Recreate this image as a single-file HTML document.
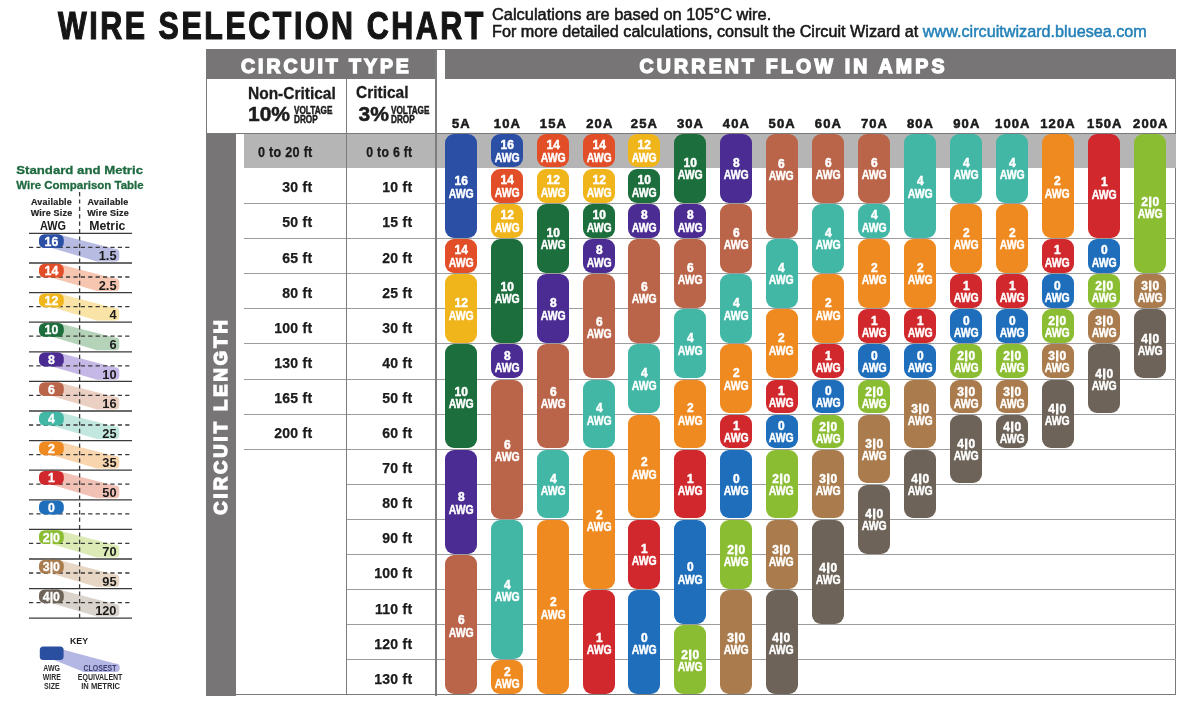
<!DOCTYPE html>
<html><head><meta charset="utf-8"><title>Wire Selection Chart</title>
<style>
*{margin:0;padding:0;box-sizing:border-box}
html,body{width:1200px;height:714px;overflow:hidden;background:#fff}
body{position:relative;font-family:"Liberation Sans",Arial,sans-serif;color:#1c1c1c}
.a{position:absolute}
.t{position:absolute;white-space:nowrap;line-height:1}
.title{left:58px;top:6.5px;font-size:38px;font-weight:700;letter-spacing:3.2px;color:#151515;transform-origin:0 0;transform:scaleX(0.8);-webkit-text-stroke:1.2px #151515}
.sub{left:492px;font-size:17px;color:#161616;transform-origin:0 0;-webkit-text-stroke:0.55px #161616}
.sub b{font-weight:400;color:#2380b8;-webkit-text-stroke:0.5px #2380b8}
.bar{position:absolute;background:#777575}
.hd{position:absolute;color:#fff;font-weight:700;white-space:nowrap;line-height:1}
.vl{position:absolute;background:#7d7d7d}
.hl{position:absolute;height:1px;background:#9c9c9c}
.rl{position:absolute;font-size:14px;font-weight:700;text-align:right;white-space:nowrap;line-height:1;color:#1a1a1a;letter-spacing:0.3px;-webkit-text-stroke:0.25px #1a1a1a}
.al{position:absolute;font-size:13px;font-weight:700;letter-spacing:1.1px;text-align:center;width:60px;white-space:nowrap;line-height:1;color:#1a1a1a;-webkit-text-stroke:0.55px #1a1a1a}
.p{position:absolute;width:32px;border-radius:9px;display:flex;align-items:center;justify-content:center}
.p span{display:block;color:#fff;font-weight:700;font-size:12.6px;line-height:12.5px;text-align:center;white-space:nowrap;margin-top:2px;-webkit-text-stroke:0.5px #fff}
.p em{display:block;font-style:normal;transform:scaleX(0.95)}
.p u{display:block;text-decoration:none;font-size:13.6px;transform:scaleX(0.77)}
.p i{display:inline-block;font-style:normal;-webkit-text-stroke:0.9px #fff;margin:0 0.6px;transform:scaleY(0.92);vertical-align:0.5px}
</style></head><body>

<div class="t title">WIRE SELECTION CHART</div>
<div class="t sub" style="top:6px;transform:scaleX(0.965)">Calculations are based on 105°C wire.</div>
<div class="t sub" style="top:23px;transform:scaleX(0.952)">For more detailed calculations, consult the Circuit Wizard at <b>www.circuitwizard.bluesea.com</b></div>
<div class="a" style="left:205.5px;top:48.6px;width:970.5px;height:646.9px;border:1.3px solid #7a7a7a"></div>
<div class="bar" style="left:205.5px;top:48.6px;width:230.5px;height:30.6px"></div>
<div class="bar" style="left:444.8px;top:48.6px;width:731.2px;height:30.6px"></div>
<div class="a" style="left:436.8px;top:49.8px;width:8px;height:29.4px;background:#fff"></div>
<div class="hd" style="left:241px;top:56.5px;font-size:19.5px;letter-spacing:2.95px;transform-origin:0 0;transform:scaleX(1.0);-webkit-text-stroke:1.4px #fff">CIRCUIT TYPE</div>
<div class="hd" style="left:639.5px;top:56.5px;font-size:19.5px;letter-spacing:3.2px;transform-origin:0 0;transform:scaleX(1.0);-webkit-text-stroke:1.4px #fff">CURRENT FLOW IN AMPS</div>
<div class="bar" style="left:205.5px;top:132.5px;width:30.5px;height:563.0px"></div>
<div class="hd" style="left:220.5px;top:416.2px;font-size:18.5px;letter-spacing:2.95px;transform:translate(-50%,-50%) rotate(-90deg);-webkit-text-stroke:1.4px #fff">CIRCUIT LENGTH</div>
<div class="a" style="left:244px;top:133.3px;width:932px;height:35.099999999999994px;background:#b5b5b5"></div>
<div class="hl" style="left:244px;top:203.0px;width:102px"></div>
<div class="hl" style="left:346px;top:203.0px;width:830px"></div>
<div class="hl" style="left:244px;top:238.1px;width:102px"></div>
<div class="hl" style="left:346px;top:238.1px;width:830px"></div>
<div class="hl" style="left:244px;top:273.2px;width:102px"></div>
<div class="hl" style="left:346px;top:273.2px;width:830px"></div>
<div class="hl" style="left:244px;top:308.3px;width:102px"></div>
<div class="hl" style="left:346px;top:308.3px;width:830px"></div>
<div class="hl" style="left:244px;top:343.4px;width:102px"></div>
<div class="hl" style="left:346px;top:343.4px;width:830px"></div>
<div class="hl" style="left:244px;top:378.5px;width:102px"></div>
<div class="hl" style="left:346px;top:378.5px;width:830px"></div>
<div class="hl" style="left:244px;top:413.6px;width:102px"></div>
<div class="hl" style="left:346px;top:413.6px;width:830px"></div>
<div class="hl" style="left:244px;top:448.7px;width:102px"></div>
<div class="hl" style="left:346px;top:448.7px;width:830px"></div>
<div class="hl" style="left:346px;top:483.8px;width:830px"></div>
<div class="hl" style="left:346px;top:518.9px;width:830px"></div>
<div class="hl" style="left:346px;top:554.0px;width:830px"></div>
<div class="hl" style="left:346px;top:589.1px;width:830px"></div>
<div class="hl" style="left:346px;top:624.2px;width:830px"></div>
<div class="hl" style="left:346px;top:659.3px;width:830px"></div>
<div class="a" style="left:205.5px;top:132.5px;width:970.5px;height:1.3px;background:#7a7a7a"></div>
<div class="vl" style="left:345.6px;top:79px;width:1.2px;height:616px"></div>
<div class="vl" style="left:435.3px;top:48.6px;width:1.6px;height:647px"></div>
<div class="t" style="left:248px;top:86px;font-size:16px;-webkit-text-stroke:0.3px #1c1c1c;font-weight:700;transform-origin:0 0;transform:scaleX(0.968)">Non-Critical</div>
<div class="t" style="left:248px;top:103px;font-size:21px;font-weight:700;-webkit-text-stroke:0.5px #1c1c1c">10%</div>
<div class="t" style="left:293.5px;top:105.5px;font-size:10px;font-weight:700;line-height:9px;transform-origin:0 0;transform:scaleX(0.82);-webkit-text-stroke:0.45px #1c1c1c">VOLTAGE<br>DROP</div>
<div class="t" style="left:356px;top:85px;font-size:16px;-webkit-text-stroke:0.3px #1c1c1c;font-weight:700;transform-origin:0 0;transform:scaleX(0.968)">Critical</div>
<div class="t" style="left:358.5px;top:103px;font-size:21px;font-weight:700;-webkit-text-stroke:0.5px #1c1c1c">3%</div>
<div class="t" style="left:391px;top:105.5px;font-size:10px;font-weight:700;line-height:9px;transform-origin:0 0;transform:scaleX(0.82);-webkit-text-stroke:0.45px #1c1c1c">VOLTAGE<br>DROP</div>
<div class="rl" style="right:887.5px;top:145.2px;transform-origin:100% 50%;transform:scaleX(0.9)">0 to 20 ft</div>
<div class="rl" style="right:887.5px;top:180.3px">30 ft</div>
<div class="rl" style="right:887.5px;top:215.4px">50 ft</div>
<div class="rl" style="right:887.5px;top:250.5px">65 ft</div>
<div class="rl" style="right:887.5px;top:285.6px">80 ft</div>
<div class="rl" style="right:887.5px;top:320.7px">100 ft</div>
<div class="rl" style="right:887.5px;top:355.8px">130 ft</div>
<div class="rl" style="right:887.5px;top:390.9px">165 ft</div>
<div class="rl" style="right:887.5px;top:426.0px">200 ft</div>
<div class="rl" style="right:787.5px;top:145.2px;transform-origin:100% 50%;transform:scaleX(0.88)">0 to 6 ft</div>
<div class="rl" style="right:787.5px;top:180.3px">10 ft</div>
<div class="rl" style="right:787.5px;top:215.4px">15 ft</div>
<div class="rl" style="right:787.5px;top:250.5px">20 ft</div>
<div class="rl" style="right:787.5px;top:285.6px">25 ft</div>
<div class="rl" style="right:787.5px;top:320.7px">30 ft</div>
<div class="rl" style="right:787.5px;top:355.8px">40 ft</div>
<div class="rl" style="right:787.5px;top:390.9px">50 ft</div>
<div class="rl" style="right:787.5px;top:426.0px">60 ft</div>
<div class="rl" style="right:787.5px;top:461.1px">70 ft</div>
<div class="rl" style="right:787.5px;top:496.2px">80 ft</div>
<div class="rl" style="right:787.5px;top:531.3px">90 ft</div>
<div class="rl" style="right:787.5px;top:566.4px">100 ft</div>
<div class="rl" style="right:787.5px;top:601.5px">110 ft</div>
<div class="rl" style="right:787.5px;top:636.6px">120 ft</div>
<div class="rl" style="right:787.5px;top:671.7px">130 ft</div>
<div class="al" style="left:431.3px;top:117.3px">5A</div>
<div class="al" style="left:477.4px;top:117.3px">10A</div>
<div class="al" style="left:523.4px;top:117.3px">15A</div>
<div class="al" style="left:569.8px;top:117.3px">20A</div>
<div class="al" style="left:614.4px;top:117.3px">25A</div>
<div class="al" style="left:660.5px;top:117.3px">30A</div>
<div class="al" style="left:706.4px;top:117.3px">40A</div>
<div class="al" style="left:752.2px;top:117.3px">50A</div>
<div class="al" style="left:798.4px;top:117.3px">60A</div>
<div class="al" style="left:844.5px;top:117.3px">70A</div>
<div class="al" style="left:890.5px;top:117.3px">80A</div>
<div class="al" style="left:936.8px;top:117.3px">90A</div>
<div class="al" style="left:982.8px;top:117.3px">100A</div>
<div class="al" style="left:1028.0px;top:117.3px">120A</div>
<div class="al" style="left:1074.8px;top:117.3px">150A</div>
<div class="al" style="left:1120.8px;top:117.3px">200A</div>
<div class="p" style="left:444.8px;top:133.8px;height:103.9px;background:#2b4fa5"><span style="position:relative;top:1px"><em>16</em><u>AWG</u></span></div>
<div class="p" style="left:444.8px;top:239.1px;height:33.7px;background:#e24e27"><span><em>14</em><u>AWG</u></span></div>
<div class="p" style="left:444.8px;top:274.2px;height:68.8px;background:#f1b51c"><span><em>12</em><u>AWG</u></span></div>
<div class="p" style="left:444.8px;top:344.4px;height:103.9px;background:#1c6e3d"><span style="position:relative;top:1px"><em>10</em><u>AWG</u></span></div>
<div class="p" style="left:444.8px;top:449.7px;height:103.9px;background:#4a2c92"><span style="position:relative;top:1px"><em>8</em><u>AWG</u></span></div>
<div class="p" style="left:444.8px;top:555.0px;height:139.0px;background:#ba6549"><span style="position:relative;top:1px"><em>6</em><u>AWG</u></span></div>
<div class="p" style="left:490.9px;top:133.8px;height:33.7px;background:#2b4fa5"><span><em>16</em><u>AWG</u></span></div>
<div class="p" style="left:490.9px;top:168.9px;height:33.7px;background:#e24e27"><span><em>14</em><u>AWG</u></span></div>
<div class="p" style="left:490.9px;top:204.0px;height:33.7px;background:#f1b51c"><span><em>12</em><u>AWG</u></span></div>
<div class="p" style="left:490.9px;top:239.1px;height:103.9px;background:#1c6e3d"><span style="position:relative;top:1px"><em>10</em><u>AWG</u></span></div>
<div class="p" style="left:490.9px;top:344.4px;height:33.7px;background:#4a2c92"><span><em>8</em><u>AWG</u></span></div>
<div class="p" style="left:490.9px;top:379.5px;height:139.0px;background:#ba6549"><span style="position:relative;top:1px"><em>6</em><u>AWG</u></span></div>
<div class="p" style="left:490.9px;top:519.9px;height:139.0px;background:#42b7a6"><span style="position:relative;top:1px"><em>4</em><u>AWG</u></span></div>
<div class="p" style="left:490.9px;top:660.3px;height:33.7px;background:#ef8a21"><span><em>2</em><u>AWG</u></span></div>
<div class="p" style="left:536.9px;top:133.8px;height:33.7px;background:#e24e27"><span><em>14</em><u>AWG</u></span></div>
<div class="p" style="left:536.9px;top:168.9px;height:33.7px;background:#f1b51c"><span><em>12</em><u>AWG</u></span></div>
<div class="p" style="left:536.9px;top:204.0px;height:68.8px;background:#1c6e3d"><span><em>10</em><u>AWG</u></span></div>
<div class="p" style="left:536.9px;top:274.2px;height:68.8px;background:#4a2c92"><span><em>8</em><u>AWG</u></span></div>
<div class="p" style="left:536.9px;top:344.4px;height:103.9px;background:#ba6549"><span style="position:relative;top:1px"><em>6</em><u>AWG</u></span></div>
<div class="p" style="left:536.9px;top:449.7px;height:68.8px;background:#42b7a6"><span><em>4</em><u>AWG</u></span></div>
<div class="p" style="left:536.9px;top:519.9px;height:174.1px;background:#ef8a21"><span style="position:relative;top:1px"><em>2</em><u>AWG</u></span></div>
<div class="p" style="left:583.3px;top:133.8px;height:33.7px;background:#e24e27"><span><em>14</em><u>AWG</u></span></div>
<div class="p" style="left:583.3px;top:168.9px;height:33.7px;background:#f1b51c"><span><em>12</em><u>AWG</u></span></div>
<div class="p" style="left:583.3px;top:204.0px;height:33.7px;background:#1c6e3d"><span><em>10</em><u>AWG</u></span></div>
<div class="p" style="left:583.3px;top:239.1px;height:33.7px;background:#4a2c92"><span><em>8</em><u>AWG</u></span></div>
<div class="p" style="left:583.3px;top:274.2px;height:103.9px;background:#ba6549"><span style="position:relative;top:1px"><em>6</em><u>AWG</u></span></div>
<div class="p" style="left:583.3px;top:379.5px;height:68.8px;background:#42b7a6"><span><em>4</em><u>AWG</u></span></div>
<div class="p" style="left:583.3px;top:449.7px;height:139.0px;background:#ef8a21"><span style="position:relative;top:1px"><em>2</em><u>AWG</u></span></div>
<div class="p" style="left:583.3px;top:590.1px;height:103.9px;background:#d0282c"><span style="position:relative;top:1px"><em>1</em><u>AWG</u></span></div>
<div class="p" style="left:627.9px;top:133.8px;height:33.7px;background:#f1b51c"><span><em>12</em><u>AWG</u></span></div>
<div class="p" style="left:627.9px;top:168.9px;height:33.7px;background:#1c6e3d"><span><em>10</em><u>AWG</u></span></div>
<div class="p" style="left:627.9px;top:204.0px;height:33.7px;background:#4a2c92"><span><em>8</em><u>AWG</u></span></div>
<div class="p" style="left:627.9px;top:239.1px;height:103.9px;background:#ba6549"><span style="position:relative;top:1px"><em>6</em><u>AWG</u></span></div>
<div class="p" style="left:627.9px;top:344.4px;height:68.8px;background:#42b7a6"><span><em>4</em><u>AWG</u></span></div>
<div class="p" style="left:627.9px;top:414.6px;height:103.9px;background:#ef8a21"><span style="position:relative;top:1px"><em>2</em><u>AWG</u></span></div>
<div class="p" style="left:627.9px;top:519.9px;height:68.8px;background:#d0282c"><span><em>1</em><u>AWG</u></span></div>
<div class="p" style="left:627.9px;top:590.1px;height:103.9px;background:#1e6ebc"><span style="position:relative;top:1px"><em>0</em><u>AWG</u></span></div>
<div class="p" style="left:674.0px;top:133.8px;height:68.8px;background:#1c6e3d"><span><em>10</em><u>AWG</u></span></div>
<div class="p" style="left:674.0px;top:204.0px;height:33.7px;background:#4a2c92"><span><em>8</em><u>AWG</u></span></div>
<div class="p" style="left:674.0px;top:239.1px;height:68.8px;background:#ba6549"><span><em>6</em><u>AWG</u></span></div>
<div class="p" style="left:674.0px;top:309.3px;height:68.8px;background:#42b7a6"><span><em>4</em><u>AWG</u></span></div>
<div class="p" style="left:674.0px;top:379.5px;height:68.8px;background:#ef8a21"><span><em>2</em><u>AWG</u></span></div>
<div class="p" style="left:674.0px;top:449.7px;height:68.8px;background:#d0282c"><span><em>1</em><u>AWG</u></span></div>
<div class="p" style="left:674.0px;top:519.9px;height:103.9px;background:#1e6ebc"><span style="position:relative;top:1px"><em>0</em><u>AWG</u></span></div>
<div class="p" style="left:674.0px;top:625.2px;height:68.8px;background:#8bbd33"><span><em>2<i>|</i>0</em><u>AWG</u></span></div>
<div class="p" style="left:719.9px;top:133.8px;height:68.8px;background:#4a2c92"><span><em>8</em><u>AWG</u></span></div>
<div class="p" style="left:719.9px;top:204.0px;height:68.8px;background:#ba6549"><span><em>6</em><u>AWG</u></span></div>
<div class="p" style="left:719.9px;top:274.2px;height:68.8px;background:#42b7a6"><span><em>4</em><u>AWG</u></span></div>
<div class="p" style="left:719.9px;top:344.4px;height:68.8px;background:#ef8a21"><span><em>2</em><u>AWG</u></span></div>
<div class="p" style="left:719.9px;top:414.6px;height:33.7px;background:#d0282c"><span><em>1</em><u>AWG</u></span></div>
<div class="p" style="left:719.9px;top:449.7px;height:68.8px;background:#1e6ebc"><span><em>0</em><u>AWG</u></span></div>
<div class="p" style="left:719.9px;top:519.9px;height:68.8px;background:#8bbd33"><span><em>2<i>|</i>0</em><u>AWG</u></span></div>
<div class="p" style="left:719.9px;top:590.1px;height:103.9px;background:#aa7c4d"><span style="position:relative;top:1px"><em>3<i>|</i>0</em><u>AWG</u></span></div>
<div class="p" style="left:765.6px;top:133.8px;height:103.9px;background:#ba6549"><span style="position:relative;top:-16.5px"><em>6</em><u>AWG</u></span></div>
<div class="p" style="left:765.6px;top:239.1px;height:68.8px;background:#42b7a6"><span><em>4</em><u>AWG</u></span></div>
<div class="p" style="left:765.6px;top:309.3px;height:68.8px;background:#ef8a21"><span><em>2</em><u>AWG</u></span></div>
<div class="p" style="left:765.6px;top:379.5px;height:33.7px;background:#d0282c"><span><em>1</em><u>AWG</u></span></div>
<div class="p" style="left:765.6px;top:414.6px;height:33.7px;background:#1e6ebc"><span><em>0</em><u>AWG</u></span></div>
<div class="p" style="left:765.6px;top:449.7px;height:68.8px;background:#8bbd33"><span><em>2<i>|</i>0</em><u>AWG</u></span></div>
<div class="p" style="left:765.6px;top:519.9px;height:68.8px;background:#aa7c4d"><span><em>3<i>|</i>0</em><u>AWG</u></span></div>
<div class="p" style="left:765.6px;top:590.1px;height:103.9px;background:#6d6358"><span style="position:relative;top:1px"><em>4<i>|</i>0</em><u>AWG</u></span></div>
<div class="p" style="left:811.9px;top:133.8px;height:68.8px;background:#ba6549"><span><em>6</em><u>AWG</u></span></div>
<div class="p" style="left:811.9px;top:204.0px;height:68.8px;background:#42b7a6"><span><em>4</em><u>AWG</u></span></div>
<div class="p" style="left:811.9px;top:274.2px;height:68.8px;background:#ef8a21"><span><em>2</em><u>AWG</u></span></div>
<div class="p" style="left:811.9px;top:344.4px;height:33.7px;background:#d0282c"><span><em>1</em><u>AWG</u></span></div>
<div class="p" style="left:811.9px;top:379.5px;height:33.7px;background:#1e6ebc"><span><em>0</em><u>AWG</u></span></div>
<div class="p" style="left:811.9px;top:414.6px;height:33.7px;background:#8bbd33"><span><em>2<i>|</i>0</em><u>AWG</u></span></div>
<div class="p" style="left:811.9px;top:449.7px;height:68.8px;background:#aa7c4d"><span><em>3<i>|</i>0</em><u>AWG</u></span></div>
<div class="p" style="left:811.9px;top:519.9px;height:103.9px;background:#6d6358"><span style="position:relative;top:1px"><em>4<i>|</i>0</em><u>AWG</u></span></div>
<div class="p" style="left:858.0px;top:133.8px;height:68.8px;background:#ba6549"><span><em>6</em><u>AWG</u></span></div>
<div class="p" style="left:858.0px;top:204.0px;height:33.7px;background:#42b7a6"><span><em>4</em><u>AWG</u></span></div>
<div class="p" style="left:858.0px;top:239.1px;height:68.8px;background:#ef8a21"><span><em>2</em><u>AWG</u></span></div>
<div class="p" style="left:858.0px;top:309.3px;height:33.7px;background:#d0282c"><span><em>1</em><u>AWG</u></span></div>
<div class="p" style="left:858.0px;top:344.4px;height:33.7px;background:#1e6ebc"><span><em>0</em><u>AWG</u></span></div>
<div class="p" style="left:858.0px;top:379.5px;height:33.7px;background:#8bbd33"><span><em>2<i>|</i>0</em><u>AWG</u></span></div>
<div class="p" style="left:858.0px;top:414.6px;height:68.8px;background:#aa7c4d"><span><em>3<i>|</i>0</em><u>AWG</u></span></div>
<div class="p" style="left:858.0px;top:484.8px;height:68.8px;background:#6d6358"><span><em>4<i>|</i>0</em><u>AWG</u></span></div>
<div class="p" style="left:904.0px;top:133.8px;height:103.9px;background:#42b7a6"><span style="position:relative;top:1px"><em>4</em><u>AWG</u></span></div>
<div class="p" style="left:904.0px;top:239.1px;height:68.8px;background:#ef8a21"><span><em>2</em><u>AWG</u></span></div>
<div class="p" style="left:904.0px;top:309.3px;height:33.7px;background:#d0282c"><span><em>1</em><u>AWG</u></span></div>
<div class="p" style="left:904.0px;top:344.4px;height:33.7px;background:#1e6ebc"><span><em>0</em><u>AWG</u></span></div>
<div class="p" style="left:904.0px;top:379.5px;height:68.8px;background:#aa7c4d"><span><em>3<i>|</i>0</em><u>AWG</u></span></div>
<div class="p" style="left:904.0px;top:449.7px;height:68.8px;background:#6d6358"><span><em>4<i>|</i>0</em><u>AWG</u></span></div>
<div class="p" style="left:950.2px;top:133.8px;height:68.8px;background:#42b7a6"><span><em>4</em><u>AWG</u></span></div>
<div class="p" style="left:950.2px;top:204.0px;height:68.8px;background:#ef8a21"><span><em>2</em><u>AWG</u></span></div>
<div class="p" style="left:950.2px;top:274.2px;height:33.7px;background:#d0282c"><span><em>1</em><u>AWG</u></span></div>
<div class="p" style="left:950.2px;top:309.3px;height:33.7px;background:#1e6ebc"><span><em>0</em><u>AWG</u></span></div>
<div class="p" style="left:950.2px;top:344.4px;height:33.7px;background:#8bbd33"><span><em>2<i>|</i>0</em><u>AWG</u></span></div>
<div class="p" style="left:950.2px;top:379.5px;height:33.7px;background:#aa7c4d"><span><em>3<i>|</i>0</em><u>AWG</u></span></div>
<div class="p" style="left:950.2px;top:414.6px;height:68.8px;background:#6d6358"><span><em>4<i>|</i>0</em><u>AWG</u></span></div>
<div class="p" style="left:996.3px;top:133.8px;height:68.8px;background:#42b7a6"><span><em>4</em><u>AWG</u></span></div>
<div class="p" style="left:996.3px;top:204.0px;height:68.8px;background:#ef8a21"><span><em>2</em><u>AWG</u></span></div>
<div class="p" style="left:996.3px;top:274.2px;height:33.7px;background:#d0282c"><span><em>1</em><u>AWG</u></span></div>
<div class="p" style="left:996.3px;top:309.3px;height:33.7px;background:#1e6ebc"><span><em>0</em><u>AWG</u></span></div>
<div class="p" style="left:996.3px;top:344.4px;height:33.7px;background:#8bbd33"><span><em>2<i>|</i>0</em><u>AWG</u></span></div>
<div class="p" style="left:996.3px;top:379.5px;height:33.7px;background:#aa7c4d"><span><em>3<i>|</i>0</em><u>AWG</u></span></div>
<div class="p" style="left:996.3px;top:414.6px;height:33.7px;background:#6d6358"><span><em>4<i>|</i>0</em><u>AWG</u></span></div>
<div class="p" style="left:1041.5px;top:133.8px;height:103.9px;background:#ef8a21"><span style="position:relative;top:1px"><em>2</em><u>AWG</u></span></div>
<div class="p" style="left:1041.5px;top:239.1px;height:33.7px;background:#d0282c"><span><em>1</em><u>AWG</u></span></div>
<div class="p" style="left:1041.5px;top:274.2px;height:33.7px;background:#1e6ebc"><span><em>0</em><u>AWG</u></span></div>
<div class="p" style="left:1041.5px;top:309.3px;height:33.7px;background:#8bbd33"><span><em>2<i>|</i>0</em><u>AWG</u></span></div>
<div class="p" style="left:1041.5px;top:344.4px;height:33.7px;background:#aa7c4d"><span><em>3<i>|</i>0</em><u>AWG</u></span></div>
<div class="p" style="left:1041.5px;top:379.5px;height:68.8px;background:#6d6358"><span><em>4<i>|</i>0</em><u>AWG</u></span></div>
<div class="p" style="left:1088.3px;top:133.8px;height:103.9px;background:#d0282c"><span style="position:relative;top:2px"><em>1</em><u>AWG</u></span></div>
<div class="p" style="left:1088.3px;top:239.1px;height:33.7px;background:#1e6ebc"><span><em>0</em><u>AWG</u></span></div>
<div class="p" style="left:1088.3px;top:274.2px;height:33.7px;background:#8bbd33"><span><em>2<i>|</i>0</em><u>AWG</u></span></div>
<div class="p" style="left:1088.3px;top:309.3px;height:33.7px;background:#aa7c4d"><span><em>3<i>|</i>0</em><u>AWG</u></span></div>
<div class="p" style="left:1088.3px;top:344.4px;height:68.8px;background:#6d6358"><span><em>4<i>|</i>0</em><u>AWG</u></span></div>
<div class="p" style="left:1134.2px;top:133.8px;height:139.0px;background:#8bbd33"><span style="position:relative;top:3px"><em>2<i>|</i>0</em><u>AWG</u></span></div>
<div class="p" style="left:1134.2px;top:274.2px;height:33.7px;background:#aa7c4d"><span><em>3<i>|</i>0</em><u>AWG</u></span></div>
<div class="p" style="left:1134.2px;top:309.3px;height:68.8px;background:#6d6358"><span><em>4<i>|</i>0</em><u>AWG</u></span></div>
<svg class="a" style="left:0;top:150px" width="206" height="560" viewBox="0 150 206 560" font-family="Liberation Sans, Arial, sans-serif"><text x="16.3" y="173.9" font-size="11.8" font-weight="700" fill="#1f6a40" stroke="#1f6a40" stroke-width="0.3" textLength="126.7" lengthAdjust="spacingAndGlyphs">Standard and Metric</text><text x="16.3" y="188.6" font-size="11.8" font-weight="700" fill="#1f6a40" stroke="#1f6a40" stroke-width="0.3" textLength="127.4" lengthAdjust="spacingAndGlyphs">Wire Comparison Table</text><g font-size="9" font-weight="700" fill="#222" stroke="#222" stroke-width="0.2" text-anchor="middle" letter-spacing="0.2"><text x="51.5" y="204.7">Available</text><text x="51.5" y="216">Wire Size</text><text x="108" y="204.7">Available</text><text x="108" y="216">Wire Size</text></g><text x="53" y="230" font-size="12.3" font-weight="700" fill="#1a1a1a" text-anchor="middle" textLength="26" lengthAdjust="spacingAndGlyphs">AWG</text><text x="107.3" y="230" font-size="12.3" font-weight="700" fill="#1a1a1a" text-anchor="middle">Metric</text><path d="M51,232.40 L114.30,248.79 Q119.3,248.49 119.3,252.79 L119.3,257.40 Q119.3,261.40 115.30,261.40 L97,261.40 L51,247.80 Z" fill="#b7bbe2"/><path d="M51,262.00 L114.30,278.39 Q119.3,278.09 119.3,282.39 L119.3,287.00 Q119.3,291.00 115.30,291.00 L97,291.00 L51,277.40 Z" fill="#f6c6b0"/><path d="M51,291.60 L114.30,307.99 Q119.3,307.69 119.3,311.99 L119.3,316.60 Q119.3,320.60 115.30,320.60 L97,320.60 L51,307.00 Z" fill="#f9e3a6"/><path d="M51,321.20 L114.30,337.59 Q119.3,337.29 119.3,341.59 L119.3,346.20 Q119.3,350.20 115.30,350.20 L97,350.20 L51,336.60 Z" fill="#b4d3b8"/><path d="M51,350.80 L114.30,367.19 Q119.3,366.89 119.3,371.19 L119.3,375.80 Q119.3,379.80 115.30,379.80 L97,379.80 L51,366.20 Z" fill="#c6b8e6"/><path d="M51,380.40 L114.30,396.79 Q119.3,396.49 119.3,400.79 L119.3,405.40 Q119.3,409.40 115.30,409.40 L97,409.40 L51,395.80 Z" fill="#ebcfc2"/><path d="M51,410.00 L114.30,426.39 Q119.3,426.09 119.3,430.39 L119.3,435.00 Q119.3,439.00 115.30,439.00 L97,439.00 L51,425.40 Z" fill="#c2e7df"/><path d="M51,439.60 L114.30,455.99 Q119.3,455.69 119.3,459.99 L119.3,464.60 Q119.3,468.60 115.30,468.60 L97,468.60 L51,455.00 Z" fill="#f9d5ae"/><path d="M51,469.20 L114.30,485.59 Q119.3,485.29 119.3,489.59 L119.3,494.20 Q119.3,498.20 115.30,498.20 L97,498.20 L51,484.60 Z" fill="#f2c1b6"/><path d="M51,528.40 L114.30,544.79 Q119.3,544.49 119.3,548.79 L119.3,553.40 Q119.3,557.40 115.30,557.40 L97,557.40 L51,543.80 Z" fill="#dcebb6"/><path d="M51,558.00 L114.30,574.39 Q119.3,574.09 119.3,578.39 L119.3,583.00 Q119.3,587.00 115.30,587.00 L97,587.00 L51,573.40 Z" fill="#e7d6c4"/><path d="M51,587.60 L114.30,603.99 Q119.3,603.69 119.3,607.99 L119.3,612.60 Q119.3,616.60 115.30,616.60 L97,616.60 L51,603.00 Z" fill="#d9d3cc"/><line x1="29" y1="233.40" x2="132" y2="233.40" stroke="#3a3a3a" stroke-width="1.3"/><line x1="29" y1="247.40" x2="132" y2="247.40" stroke="#3a3a3a" stroke-width="1.3" stroke-dasharray="4.2 3.2"/><line x1="29" y1="263.00" x2="132" y2="263.00" stroke="#3a3a3a" stroke-width="1.3"/><line x1="29" y1="277.00" x2="132" y2="277.00" stroke="#3a3a3a" stroke-width="1.3" stroke-dasharray="4.2 3.2"/><line x1="29" y1="292.60" x2="132" y2="292.60" stroke="#3a3a3a" stroke-width="1.3"/><line x1="29" y1="306.60" x2="132" y2="306.60" stroke="#3a3a3a" stroke-width="1.3" stroke-dasharray="4.2 3.2"/><line x1="29" y1="322.20" x2="132" y2="322.20" stroke="#3a3a3a" stroke-width="1.3"/><line x1="29" y1="336.20" x2="132" y2="336.20" stroke="#3a3a3a" stroke-width="1.3" stroke-dasharray="4.2 3.2"/><line x1="29" y1="351.80" x2="132" y2="351.80" stroke="#3a3a3a" stroke-width="1.3"/><line x1="29" y1="365.80" x2="132" y2="365.80" stroke="#3a3a3a" stroke-width="1.3" stroke-dasharray="4.2 3.2"/><line x1="29" y1="381.40" x2="132" y2="381.40" stroke="#3a3a3a" stroke-width="1.3"/><line x1="29" y1="395.40" x2="132" y2="395.40" stroke="#3a3a3a" stroke-width="1.3" stroke-dasharray="4.2 3.2"/><line x1="29" y1="411.00" x2="132" y2="411.00" stroke="#3a3a3a" stroke-width="1.3"/><line x1="29" y1="425.00" x2="132" y2="425.00" stroke="#3a3a3a" stroke-width="1.3" stroke-dasharray="4.2 3.2"/><line x1="29" y1="440.60" x2="132" y2="440.60" stroke="#3a3a3a" stroke-width="1.3"/><line x1="29" y1="454.60" x2="132" y2="454.60" stroke="#3a3a3a" stroke-width="1.3" stroke-dasharray="4.2 3.2"/><line x1="29" y1="470.20" x2="132" y2="470.20" stroke="#3a3a3a" stroke-width="1.3"/><line x1="29" y1="484.20" x2="132" y2="484.20" stroke="#3a3a3a" stroke-width="1.3" stroke-dasharray="4.2 3.2"/><line x1="29" y1="499.80" x2="132" y2="499.80" stroke="#3a3a3a" stroke-width="1.3"/><line x1="29" y1="513.80" x2="132" y2="513.80" stroke="#3a3a3a" stroke-width="1.3" stroke-dasharray="4.2 3.2"/><line x1="29" y1="529.40" x2="132" y2="529.40" stroke="#3a3a3a" stroke-width="1.3"/><line x1="29" y1="543.40" x2="132" y2="543.40" stroke="#3a3a3a" stroke-width="1.3" stroke-dasharray="4.2 3.2"/><line x1="29" y1="559.00" x2="132" y2="559.00" stroke="#3a3a3a" stroke-width="1.3"/><line x1="29" y1="573.00" x2="132" y2="573.00" stroke="#3a3a3a" stroke-width="1.3" stroke-dasharray="4.2 3.2"/><line x1="29" y1="588.60" x2="132" y2="588.60" stroke="#3a3a3a" stroke-width="1.3"/><line x1="29" y1="602.60" x2="132" y2="602.60" stroke="#3a3a3a" stroke-width="1.3" stroke-dasharray="4.2 3.2"/><line x1="29" y1="618.20" x2="132" y2="618.20" stroke="#3a3a3a" stroke-width="1.3"/><line x1="79.6" y1="192" x2="79.6" y2="618.2" stroke="#3a3a3a" stroke-width="1.3" stroke-dasharray="4.2 3.2"/><rect x="39" y="234.20" width="24.8" height="13.8" rx="5.5" fill="#2b4fa5"/><text x="51.4" y="245.60" font-size="12.3" font-weight="700" fill="#fff" stroke="#fff" stroke-width="0.35" text-anchor="middle">16</text><text x="116.5" y="260.20" font-size="12.8" font-weight="700" fill="#1a1a1a" text-anchor="end">1.5</text><rect x="39" y="263.80" width="24.8" height="13.8" rx="5.5" fill="#e24e27"/><text x="51.4" y="275.20" font-size="12.3" font-weight="700" fill="#fff" stroke="#fff" stroke-width="0.35" text-anchor="middle">14</text><text x="116.5" y="289.80" font-size="12.8" font-weight="700" fill="#1a1a1a" text-anchor="end">2.5</text><rect x="39" y="293.40" width="24.8" height="13.8" rx="5.5" fill="#f1b51c"/><text x="51.4" y="304.80" font-size="12.3" font-weight="700" fill="#fff" stroke="#fff" stroke-width="0.35" text-anchor="middle">12</text><text x="116.5" y="319.40" font-size="12.8" font-weight="700" fill="#1a1a1a" text-anchor="end">4</text><rect x="39" y="323.00" width="24.8" height="13.8" rx="5.5" fill="#1c6e3d"/><text x="51.4" y="334.40" font-size="12.3" font-weight="700" fill="#fff" stroke="#fff" stroke-width="0.35" text-anchor="middle">10</text><text x="116.5" y="349.00" font-size="12.8" font-weight="700" fill="#1a1a1a" text-anchor="end">6</text><rect x="39" y="352.60" width="24.8" height="13.8" rx="5.5" fill="#4a2c92"/><text x="51.4" y="364.00" font-size="12.3" font-weight="700" fill="#fff" stroke="#fff" stroke-width="0.35" text-anchor="middle">8</text><text x="116.5" y="378.60" font-size="12.8" font-weight="700" fill="#1a1a1a" text-anchor="end">10</text><rect x="39" y="382.20" width="24.8" height="13.8" rx="5.5" fill="#ba6549"/><text x="51.4" y="393.60" font-size="12.3" font-weight="700" fill="#fff" stroke="#fff" stroke-width="0.35" text-anchor="middle">6</text><text x="116.5" y="408.20" font-size="12.8" font-weight="700" fill="#1a1a1a" text-anchor="end">16</text><rect x="39" y="411.80" width="24.8" height="13.8" rx="5.5" fill="#42b7a6"/><text x="51.4" y="423.20" font-size="12.3" font-weight="700" fill="#fff" stroke="#fff" stroke-width="0.35" text-anchor="middle">4</text><text x="116.5" y="437.80" font-size="12.8" font-weight="700" fill="#1a1a1a" text-anchor="end">25</text><rect x="39" y="441.40" width="24.8" height="13.8" rx="5.5" fill="#ef8a21"/><text x="51.4" y="452.80" font-size="12.3" font-weight="700" fill="#fff" stroke="#fff" stroke-width="0.35" text-anchor="middle">2</text><text x="116.5" y="467.40" font-size="12.8" font-weight="700" fill="#1a1a1a" text-anchor="end">35</text><rect x="39" y="471.00" width="24.8" height="13.8" rx="5.5" fill="#d0282c"/><text x="51.4" y="482.40" font-size="12.3" font-weight="700" fill="#fff" stroke="#fff" stroke-width="0.35" text-anchor="middle">1</text><text x="116.5" y="497.00" font-size="12.8" font-weight="700" fill="#1a1a1a" text-anchor="end">50</text><rect x="39" y="500.60" width="24.8" height="13.8" rx="5.5" fill="#1e6ebc"/><text x="51.4" y="512.00" font-size="12.3" font-weight="700" fill="#fff" stroke="#fff" stroke-width="0.35" text-anchor="middle">0</text><rect x="39" y="530.20" width="24.8" height="13.8" rx="5.5" fill="#8bbd33"/><text x="51.4" y="541.60" font-size="12.3" font-weight="700" fill="#fff" stroke="#fff" stroke-width="0.35" text-anchor="middle">2|0</text><text x="116.5" y="556.20" font-size="12.8" font-weight="700" fill="#1a1a1a" text-anchor="end">70</text><rect x="39" y="559.80" width="24.8" height="13.8" rx="5.5" fill="#aa7c4d"/><text x="51.4" y="571.20" font-size="12.3" font-weight="700" fill="#fff" stroke="#fff" stroke-width="0.35" text-anchor="middle">3|0</text><text x="116.5" y="585.80" font-size="12.8" font-weight="700" fill="#1a1a1a" text-anchor="end">95</text><rect x="39" y="589.40" width="24.8" height="13.8" rx="5.5" fill="#6d6358"/><text x="51.4" y="600.80" font-size="12.3" font-weight="700" fill="#fff" stroke="#fff" stroke-width="0.35" text-anchor="middle">4|0</text><text x="116.5" y="615.40" font-size="12.8" font-weight="700" fill="#1a1a1a" text-anchor="end">120</text><text x="79" y="643.6" font-size="8.8" font-weight="700" fill="#1a1a1a" text-anchor="middle">KEY</text><path d="M54,647.20 L114.80,663.62 Q119.8,663.32 119.8,667.62 L119.8,668.00 Q119.8,672.00 115.80,672.00 L84,672.00 L54,660.00 Z" fill="#b4b7e3"/><rect x="39.8" y="646.4" width="23.8" height="13.5" rx="3.5" fill="#2a4ea0"/><g font-size="8.3" font-weight="700" fill="#2b2b2b" text-anchor="middle" lengthAdjust="spacingAndGlyphs"><text x="51.7" y="670.8" textLength="16.8" lengthAdjust="spacingAndGlyphs">AWG</text><text x="51.8" y="680" textLength="18" lengthAdjust="spacingAndGlyphs">WIRE</text><text x="51.8" y="689" textLength="15.6" lengthAdjust="spacingAndGlyphs">SIZE</text><text x="100" y="670.8" fill="#3b3e6e" textLength="32.8" lengthAdjust="spacingAndGlyphs">CLOSEST</text><text x="100.1" y="680" textLength="44.6" lengthAdjust="spacingAndGlyphs">EQUIVALENT</text><text x="100.6" y="689" textLength="38.8" lengthAdjust="spacingAndGlyphs">IN METRIC</text></g></svg>
</body></html>
